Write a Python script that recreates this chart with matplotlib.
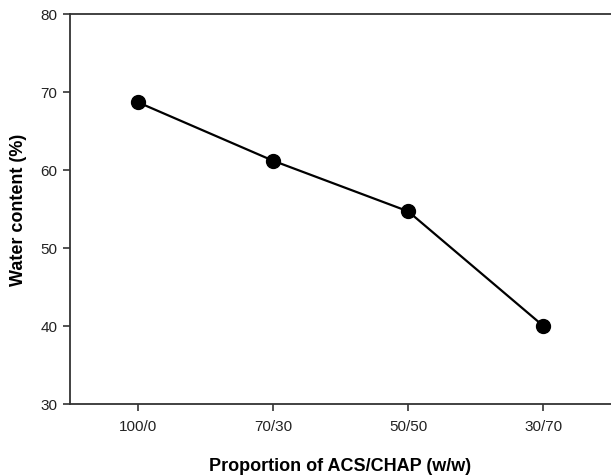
import matplotlib
matplotlib.use("Agg")
import matplotlib.pyplot as plt

categories = ["100/0", "70/30", "50/50", "30/70"]
water_content = [68.7, 61.2, 54.7, 40.0]
y_ticks = [30, 40, 50, 60, 70, 80]

plt.rcParams['font.family'] = ['Liberation Sans', 'DejaVu Sans']

fig = plt.figure(figsize=(6.11, 4.77), dpi=100)
ax = fig.add_axes([70/611, 72/477, 541/611, 390/477])

x = list(range(1, len(categories) + 1))
ax.plot(x, water_content, color='black', linewidth=1.6, marker='o',
        markersize=10, markerfacecolor='black', markeredgecolor='black')

ax.set_xlim(0.5, 4.5)
ax.set_ylim(30, 80)
ax.set_yticks(y_ticks)
ax.set_xticks(x)
ax.set_xticklabels(categories)

for s in ['left', 'top', 'bottom']:
    ax.spines[s].set_color('#333333')
    ax.spines[s].set_linewidth(1.3)
ax.spines['right'].set_visible(False)

ax.tick_params(axis='both', direction='out', length=5, width=1.2, color='#333333',
               labelsize=11, labelcolor='#222222', pad=4)
ax.tick_params(axis='x', pad=6)

ax.set_xlabel("Proportion of ACS/CHAP (w/w)", fontsize=13, fontweight='bold', labelpad=17)
ax.set_ylabel("Water content (%)", fontsize=13, fontweight='bold', labelpad=10)

fig.savefig("out.png", dpi=100)
